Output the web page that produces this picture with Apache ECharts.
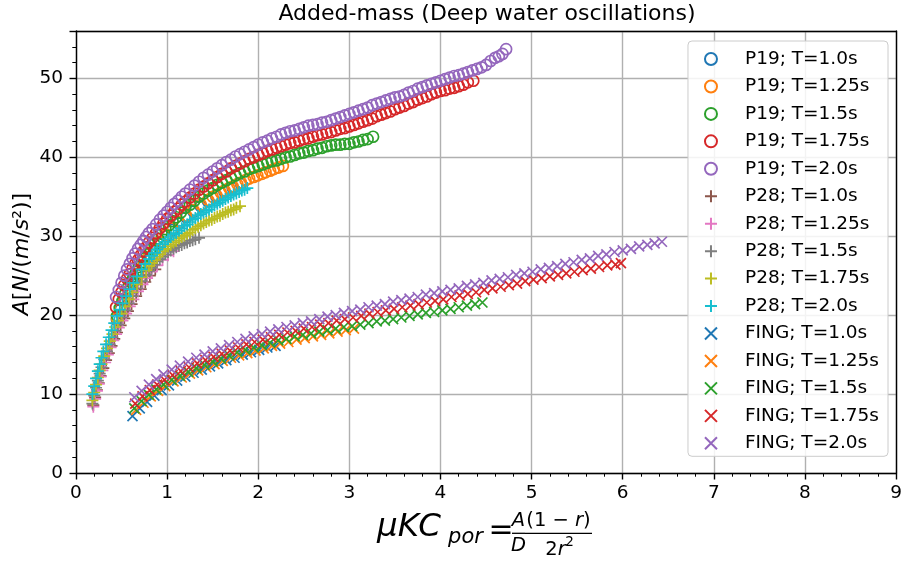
<!DOCTYPE html>
<html>
<head>
<meta charset="utf-8">
<script src="https://cdn.jsdelivr.net/npm/echarts@6/dist/echarts.min.js"></script>
<style>
html,body{margin:0;padding:0;background:#fff;}
#chart{width:905px;height:561px;}
</style>
</head>
<body>
<div id="chart"></div>
<script>
// ---------------- DATA ----------------
const seriesNames = [
  'P19; T=1.0s','P19; T=1.25s','P19; T=1.5s','P19; T=1.75s','P19; T=2.0s',
  'P28; T=1.0s','P28; T=1.25s','P28; T=1.5s','P28; T=1.75s','P28; T=2.0s',
  'FING; T=1.0s','FING; T=1.25s','FING; T=1.5s','FING; T=1.75s','FING; T=2.0s'
];

const p19_T100 = [[0.45,19.4],[0.49,20.7],[0.53,21.9],[0.58,23.0],[0.63,24.1],[0.68,25.1],[0.74,26.2],[0.80,27.2],[0.86,28.2],[0.92,29.1],[0.99,30.0],[1.06,30.8],[1.13,31.6],[1.21,32.4],[1.29,33.1],[1.37,33.8],[1.45,34.4],[1.54,35.0],[1.63,35.6],[1.72,36.1],[1.81,36.6]];
const p19_T125 = [[0.45,19.6],[0.49,20.9],[0.53,22.1],[0.58,23.2],[0.63,24.3],[0.68,25.3],[0.74,26.4],[0.80,27.4],[0.86,28.4],[0.92,29.3],[0.99,30.2],[1.06,31.0],[1.13,31.8],[1.21,32.6],[1.29,33.3],[1.37,34.0],[1.45,34.6],[1.50,35.0],[1.54,35.2],[1.59,35.5],[1.63,35.8],[1.68,36.1],[1.72,36.3],[1.77,36.6],[1.81,36.8],[1.86,37.1],[1.90,37.3],[1.95,37.5],[1.99,37.7],[2.04,37.9],[2.08,38.1],[2.13,38.3],[2.17,38.5],[2.22,38.7],[2.27,38.9]];
const p19_T150 = [[0.45,19.9],[0.48,20.9],[0.51,21.8],[0.54,22.7],[0.57,23.5],[0.60,24.2],[0.63,24.9],[0.66,25.5],[0.69,26.1],[0.72,26.7],[0.75,27.2],[0.78,27.7],[0.82,28.4],[0.86,29.0],[0.90,29.7],[0.94,30.3],[0.98,30.9],[1.02,31.4],[1.06,31.9],[1.10,32.4],[1.15,33.0],[1.20,33.6],[1.25,34.0],[1.30,34.5],[1.35,35.0],[1.40,35.4],[1.45,35.8],[1.50,36.1],[1.55,36.5],[1.60,36.8],[1.65,37.1],[1.70,37.4],[1.75,37.7],[1.80,38.0],[1.85,38.2],[1.90,38.5],[1.95,38.7],[2.00,38.9],[2.05,39.1],[2.10,39.3],[2.15,39.5],[2.20,39.6],[2.25,39.8],[2.30,40.0],[2.35,40.1],[2.40,40.3],[2.45,40.5],[2.50,40.6],[2.55,40.8],[2.60,40.9],[2.65,41.1],[2.70,41.2],[2.75,41.4],[2.80,41.5],[2.85,41.6],[2.90,41.6],[2.95,41.7],[3.00,41.7],[3.05,41.9],[3.10,42.0],[3.15,42.2],[3.20,42.3],[3.26,42.6]];
const p19_T175 = [[0.44,21.0],[0.47,22.0],[0.50,22.9],[0.53,23.8],[0.56,24.6],[0.59,25.2],[0.62,25.9],[0.65,26.5],[0.68,27.0],[0.71,27.6],[0.74,28.1],[0.77,28.6],[0.80,29.2],[0.84,29.8],[0.88,30.4],[0.92,31.0],[0.96,31.6],[1.00,32.2],[1.04,32.6],[1.08,33.1],[1.12,33.5],[1.16,34.0],[1.20,34.4],[1.25,34.9],[1.30,35.4],[1.35,35.9],[1.40,36.3],[1.45,36.7],[1.50,37.1],[1.55,37.5],[1.60,37.9],[1.65,38.2],[1.70,38.6],[1.75,38.9],[1.80,39.2],[1.85,39.5],[1.90,39.8],[1.95,40.0],[2.00,40.3],[2.05,40.5],[2.10,40.8],[2.15,41.0],[2.20,41.2],[2.25,41.4],[2.30,41.6],[2.35,41.8],[2.40,41.9],[2.45,42.1],[2.50,42.3],[2.55,42.4],[2.60,42.6],[2.65,42.8],[2.70,42.9],[2.75,43.1],[2.80,43.2],[2.85,43.4],[2.90,43.6],[2.95,43.7],[3.00,43.9],[3.05,44.1],[3.10,44.3],[3.15,44.5],[3.20,44.7],[3.25,44.9],[3.30,45.2],[3.35,45.4],[3.40,45.6],[3.45,45.8],[3.50,46.1],[3.55,46.3],[3.60,46.5],[3.65,46.8],[3.70,47.0],[3.75,47.3],[3.80,47.5],[3.85,47.7],[3.90,48.0],[3.95,48.2],[4.00,48.4],[4.05,48.5],[4.10,48.7],[4.15,48.8],[4.20,49.0],[4.25,49.2],[4.30,49.5],[4.36,49.7]];
const p19_T200 = [[0.44,22.3],[0.47,23.2],[0.50,24.1],[0.53,25.0],[0.56,25.8],[0.59,26.5],[0.62,27.2],[0.65,27.8],[0.68,28.4],[0.71,28.9],[0.74,29.4],[0.77,29.9],[0.80,30.4],[0.84,30.9],[0.88,31.5],[0.92,32.1],[0.96,32.6],[1.00,33.1],[1.04,33.6],[1.08,34.1],[1.12,34.5],[1.16,35.0],[1.20,35.4],[1.25,35.9],[1.30,36.4],[1.35,36.9],[1.40,37.4],[1.45,37.8],[1.50,38.2],[1.55,38.6],[1.60,39.0],[1.65,39.4],[1.70,39.7],[1.75,40.1],[1.80,40.4],[1.85,40.7],[1.90,41.0],[1.95,41.3],[2.00,41.6],[2.05,41.9],[2.10,42.1],[2.15,42.4],[2.20,42.6],[2.25,42.9],[2.30,43.1],[2.35,43.3],[2.40,43.4],[2.45,43.6],[2.50,43.8],[2.55,44.0],[2.60,44.1],[2.65,44.2],[2.70,44.4],[2.75,44.5],[2.80,44.7],[2.85,44.9],[2.90,45.1],[2.95,45.3],[3.00,45.5],[3.05,45.7],[3.10,45.9],[3.15,46.1],[3.20,46.3],[3.25,46.6],[3.30,46.8],[3.35,47.0],[3.40,47.2],[3.45,47.4],[3.50,47.6],[3.55,47.7],[3.60,47.9],[3.65,48.2],[3.70,48.4],[3.75,48.7],[3.80,48.9],[3.85,49.1],[3.90,49.3],[3.95,49.5],[4.00,49.7],[4.05,49.9],[4.10,50.1],[4.15,50.3],[4.20,50.4],[4.25,50.6],[4.30,50.8],[4.35,51.0],[4.40,51.2],[4.45,51.4],[4.50,51.7],[4.55,52.2],[4.60,52.6],[4.64,52.8],[4.68,53.1],[4.72,53.7]];

const p28_T100 = [[0.19,8.6],[0.21,9.6],[0.23,10.5],[0.25,11.4],[0.27,12.3],[0.30,13.3],[0.33,14.3],[0.36,15.2],[0.39,16.1],[0.42,17.0],[0.45,17.8],[0.49,18.7],[0.53,19.6],[0.57,20.5],[0.61,21.4],[0.66,22.4],[0.71,23.3],[0.76,24.2],[0.81,25.0],[0.87,25.8]];
const p28_T125 = [[0.19,8.4],[0.21,9.4],[0.23,10.4],[0.25,11.3],[0.27,12.2],[0.29,13.0],[0.32,14.0],[0.35,15.0],[0.38,15.9],[0.41,16.8],[0.44,17.6],[0.47,18.4],[0.51,19.3],[0.55,20.2],[0.59,21.1],[0.63,22.0],[0.68,23.0],[0.73,23.9],[0.78,24.7],[0.83,25.5],[0.89,26.3],[0.95,27.0],[1.01,27.6],[1.07,28.1]];
const p28_T150 = [[0.18,8.8],[0.20,9.8],[0.22,10.8],[0.24,11.7],[0.26,12.6],[0.28,13.4],[0.31,14.4],[0.34,15.4],[0.37,16.3],[0.40,17.2],[0.43,18.0],[0.46,18.8],[0.50,19.7],[0.54,20.6],[0.58,21.5],[0.62,22.4],[0.67,23.4],[0.72,24.3],[0.77,25.1],[0.80,25.6],[0.83,26.0],[0.86,26.4],[0.89,26.8],[0.92,27.1],[0.95,27.4],[0.98,27.7],[1.01,28.0],[1.04,28.2],[1.07,28.4],[1.10,28.6],[1.13,28.8],[1.16,28.9],[1.19,29.1],[1.22,29.2],[1.25,29.4],[1.28,29.5],[1.31,29.6],[1.35,29.8]];
const p28_T175 = [[0.18,9.2],[0.20,10.2],[0.22,11.2],[0.24,12.1],[0.26,13.0],[0.28,13.8],[0.31,14.8],[0.34,15.8],[0.37,16.7],[0.40,17.6],[0.43,18.5],[0.46,19.3],[0.50,20.2],[0.54,21.1],[0.58,22.0],[0.62,22.9],[0.67,23.9],[0.72,24.8],[0.77,25.7],[0.80,26.2],[0.83,26.6],[0.86,27.0],[0.89,27.4],[0.92,27.7],[0.95,28.1],[0.98,28.4],[1.01,28.7],[1.04,28.9],[1.07,29.2],[1.10,29.4],[1.13,29.7],[1.16,29.9],[1.19,30.1],[1.22,30.3],[1.25,30.5],[1.28,30.8],[1.31,31.0],[1.34,31.2],[1.37,31.4],[1.40,31.6],[1.43,31.8],[1.46,32.0],[1.49,32.1],[1.52,32.3],[1.55,32.5],[1.58,32.6],[1.61,32.8],[1.64,33.0],[1.67,33.1],[1.70,33.3],[1.73,33.4],[1.76,33.6],[1.80,33.8]];
const p28_T200 = [[0.18,10.0],[0.20,11.0],[0.22,12.0],[0.24,12.9],[0.26,13.8],[0.28,14.6],[0.30,15.4],[0.33,16.3],[0.36,17.2],[0.39,18.1],[0.42,19.0],[0.45,19.9],[0.48,20.7],[0.51,21.5],[0.55,22.4],[0.59,23.3],[0.63,24.1],[0.67,24.9],[0.72,25.8],[0.76,26.5],[0.80,27.1],[0.83,27.5],[0.86,27.9],[0.89,28.3],[0.92,28.6],[0.95,29.0],[0.98,29.3],[1.01,29.6],[1.04,29.9],[1.07,30.2],[1.10,30.4],[1.13,30.7],[1.16,31.0],[1.19,31.3],[1.22,31.5],[1.25,31.8],[1.28,32.1],[1.31,32.3],[1.34,32.6],[1.37,32.8],[1.40,33.0],[1.43,33.2],[1.46,33.4],[1.49,33.7],[1.52,33.9],[1.55,34.1],[1.58,34.3],[1.61,34.5],[1.64,34.7],[1.67,34.9],[1.70,35.1],[1.73,35.3],[1.76,35.4],[1.79,35.6],[1.82,35.8],[1.85,35.9],[1.88,36.1]];

const fing_T100 = [[0.62,7.2],[0.70,8.2],[0.78,9.0],[0.86,9.8],[0.94,10.5],[1.02,11.1],[1.11,11.7],[1.20,12.2],[1.29,12.7],[1.38,13.1],[1.47,13.5],[1.56,13.9],[1.65,14.3],[1.74,14.6],[1.83,15.0],[1.92,15.3],[2.01,15.6],[2.10,15.9],[2.19,16.1]];
const fing_T125 = [[0.66,8.0],[0.74,8.9],[0.82,9.7],[0.90,10.4],[0.98,11.0],[1.07,11.6],[1.16,12.1],[1.25,12.6],[1.34,13.0],[1.43,13.4],[1.52,13.8],[1.61,14.2],[1.70,14.6],[1.79,14.9],[1.88,15.2],[1.97,15.5],[2.06,15.8],[2.15,16.1],[2.24,16.4],[2.33,16.6],[2.42,16.9],[2.51,17.1],[2.60,17.3],[2.69,17.5],[2.78,17.7],[2.87,17.9],[2.96,18.1],[3.05,18.3]];
const fing_T150 = [[0.64,8.2],[0.72,9.1],[0.80,9.9],[0.88,10.6],[0.96,11.2],[1.05,11.8],[1.14,12.3],[1.23,12.8],[1.32,13.3],[1.41,13.7],[1.50,14.1],[1.59,14.5],[1.68,14.9],[1.77,15.3],[1.86,15.6],[1.95,15.9],[2.04,16.2],[2.13,16.5],[2.22,16.8],[2.31,17.0],[2.40,17.3],[2.49,17.5],[2.58,17.7],[2.67,17.9],[2.76,18.1],[2.85,18.3],[2.94,18.5],[3.03,18.6],[3.12,18.8],[3.21,19.0],[3.30,19.2],[3.39,19.3],[3.48,19.5],[3.57,19.7],[3.66,19.9],[3.75,20.1],[3.84,20.3],[3.93,20.4],[4.02,20.6],[4.11,20.8],[4.20,21.0],[4.29,21.2],[4.38,21.4],[4.46,21.6]];
const fing_T175 = [[0.65,8.8],[0.73,9.7],[0.81,10.5],[0.89,11.2],[0.97,11.8],[1.06,12.4],[1.15,12.9],[1.24,13.4],[1.33,13.9],[1.42,14.3],[1.51,14.7],[1.60,15.1],[1.69,15.5],[1.78,15.9],[1.87,16.3],[1.96,16.6],[2.05,16.9],[2.14,17.2],[2.23,17.5],[2.32,17.8],[2.41,18.0],[2.50,18.3],[2.59,18.5],[2.68,18.8],[2.77,19.0],[2.86,19.3],[2.95,19.5],[3.04,19.7],[3.13,19.9],[3.22,20.2],[3.31,20.4],[3.40,20.6],[3.49,20.8],[3.58,21.0],[3.67,21.2],[3.76,21.4],[3.85,21.6],[3.94,21.8],[4.03,22.0],[4.12,22.3],[4.21,22.5],[4.30,22.7],[4.39,22.9],[4.48,23.2],[4.57,23.4],[4.66,23.6],[4.75,23.8],[4.84,24.0],[4.93,24.3],[5.02,24.5],[5.11,24.7],[5.20,24.9],[5.29,25.1],[5.38,25.3],[5.47,25.5],[5.56,25.7],[5.65,25.9],[5.74,26.1],[5.83,26.3],[5.92,26.4],[5.98,26.6]];
const fing_T200 = [[0.64,9.6],[0.72,10.4],[0.80,11.2],[0.88,11.9],[0.96,12.5],[1.05,13.1],[1.14,13.6],[1.23,14.1],[1.32,14.6],[1.41,15.0],[1.50,15.4],[1.59,15.8],[1.68,16.2],[1.77,16.6],[1.86,17.0],[1.95,17.3],[2.04,17.6],[2.13,17.9],[2.22,18.2],[2.31,18.5],[2.40,18.7],[2.49,19.0],[2.58,19.2],[2.67,19.5],[2.76,19.8],[2.85,20.0],[2.94,20.3],[3.03,20.5],[3.12,20.7],[3.21,21.0],[3.30,21.2],[3.39,21.4],[3.48,21.7],[3.57,21.9],[3.66,22.1],[3.75,22.3],[3.84,22.6],[3.93,22.8],[4.02,23.0],[4.11,23.2],[4.20,23.4],[4.29,23.7],[4.38,23.9],[4.47,24.1],[4.56,24.4],[4.65,24.6],[4.74,24.8],[4.83,25.1],[4.92,25.3],[5.01,25.5],[5.10,25.8],[5.19,26.0],[5.28,26.2],[5.37,26.5],[5.46,26.7],[5.55,27.0],[5.64,27.2],[5.73,27.5],[5.82,27.7],[5.91,28.0],[6.00,28.2],[6.09,28.4],[6.18,28.7],[6.27,28.9],[6.35,29.1],[6.43,29.3]];

const seriesData = [p19_T100,p19_T125,p19_T150,p19_T175,p19_T200,
                    p28_T100,p28_T125,p28_T150,p28_T175,p28_T200,
                    fing_T100,fing_T125,fing_T150,fing_T175,fing_T200];

const xMin = 0, xMax = 9, xStep = 1;
const yMin = 0, yMax = 56, yStep = 10;

const titleText = 'Added-mass (Deep water oscillations)';

// ---------------- STYLE ----------------
const palette = ['#1f77b4','#ff7f0e','#2ca02c','#d62728','#9467bd','#8c564b','#e377c2','#7f7f7f','#bcbd22','#17becf'];
const PLUS = 'path://M0,5L10,5M5,0L5,10';
const CROSS = 'path://M0,0L10,10M0,10L10,0';
const FONT = 'DejaVu Sans';

function markerFor(i){
  if (i < 5) return {symbol:'circle', size:11};
  if (i < 10) return {symbol:PLUS, size:12};
  return {symbol:CROSS, size:10};
}

const series = seriesData.map((d, i) => {
  const m = markerFor(i);
  return {
    type: 'scatter',
    name: seriesNames[i],
    data: d,
    symbol: m.symbol,
    symbolSize: m.size,
    itemStyle: {color: 'rgba(0,0,0,0)', borderColor: palette[i % 10], borderWidth: 1.7, opacity: 1},
    emphasis: {disabled: true},
    z: 2
  };
});

const L = 76, R = 898, T = 31, B = 473;
const chart = echarts.init(document.getElementById('chart'), null, {renderer: 'canvas'});

const axisCommon = {
  type: 'value',
  axisLine: {show: true, onZero: false, lineStyle: {color: '#000', width: 1.4}},
  axisTick: {show: true, inside: false, length: 6.5, lineStyle: {color: '#000', width: 1.4}},
  minorTick: {show: true, splitNumber: 5, length: 3.7, lineStyle: {color: '#000', width: 1}},
  splitLine: {show: true, lineStyle: {color: '#b0b0b0', width: 1.4}},
  axisLabel: {color: '#000', fontFamily: FONT, fontSize: 18.5}
};

const richI = (s) => ({i: {fontFamily: FONT, fontSize: s, fontStyle: 'italic', fill: '#000'}});
function txt(t, x, y, size, italic){
  return {type: 'text', x: x, y: y, style: {text: t, font: (italic ? 'italic ' : '') + size + 'px "DejaVu Sans"', fill: '#000', align: 'center', verticalAlign: 'middle', rich: richI(size)}};
}

const option = {
  animation: false,
  backgroundColor: '#fff',
  grid: {left: L, right: 905 - R, top: T, bottom: 561 - B, containLabel: false},
  xAxis: [
    Object.assign({}, axisCommon, {min: xMin, max: xMax, interval: xStep, position: 'bottom',
      axisLabel: Object.assign({}, axisCommon.axisLabel, {margin: 11})}),
    {type: 'value', min: xMin, max: xMax, position: 'top', axisLine: {show: true, onZero: false, lineStyle: {color: '#000', width: 1.4}},
      axisTick: {show: false}, axisLabel: {show: false}, splitLine: {show: false}}
  ],
  yAxis: [
    Object.assign({}, axisCommon, {min: yMin, max: yMax, interval: yStep, position: 'left',
      axisLabel: Object.assign({}, axisCommon.axisLabel, {margin: 13, showMaxLabel: false})}),
    {type: 'value', min: yMin, max: yMax, position: 'right', axisLine: {show: true, onZero: false, lineStyle: {color: '#000', width: 1.4}},
      axisTick: {show: false}, axisLabel: {show: false}, splitLine: {show: false}}
  ],
  legend: {
    orient: 'vertical',
    right: 905 - 888,
    top: 41,
    padding: [8, 9, 3, 16],
    itemWidth: 18,
    itemHeight: 12,
    itemGap: 7.45,
    backgroundColor: 'rgba(255,255,255,0.85)',
    borderColor: '#cccccc',
    borderWidth: 1,
    borderRadius: 4,
    textStyle: {fontFamily: FONT, fontSize: 18.5, color: '#000', lineHeight: 20, padding: [0,0,0,20]},
    data: seriesNames,
    selectedMode: false
  },
  series: series,
  graphic: [
    {type: 'text', x: (L + R) / 2, y: 14.5, style: {text: titleText, font: '22px "DejaVu Sans"', fill: '#000', align: 'center', verticalAlign: 'middle'}},
    // y-axis label
    {type: 'text', x: 22, y: 254, rotation: Math.PI / 2,
      style: {text: '{i|A}[{i|N}/({i|m}/{i|s}²)]', align: 'center', verticalAlign: 'middle', fill: '#000',
        font: '22px "DejaVu Sans"', rich: richI(22)}},
    // x-axis label (math)
    txt('μKC', 409, 528, 32.5, true),
    txt('por', 465.5, 538, 21, true),
    txt('=', 501, 531.5, 30, false),
    txt('A', 518.5, 521, 19.5, true),
    {type: 'line', shape: {x1: 512, y1: 533.3, x2: 525, y2: 533.3}, style: {stroke: '#000', lineWidth: 1.3}},
    txt('D', 518.5, 545.5, 19.5, true),
    txt('(1 − {i|r})', 558.5, 521, 19.5, false),
    {type: 'line', shape: {x1: 525, y1: 533.3, x2: 592, y2: 533.3}, style: {stroke: '#000', lineWidth: 1.3}},
    txt('2{i|r}', 555.5, 549.5, 19.5, false),
    txt('2', 569.5, 542.5, 13.5, false)
  ]
};

chart.setOption(option);
</script>
</body>
</html>
